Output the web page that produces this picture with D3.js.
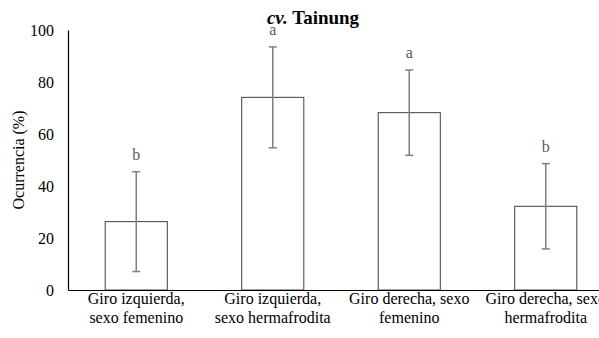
<!DOCTYPE html>
<html><head><meta charset="utf-8">
<script src="https://cdn.jsdelivr.net/npm/d3@7"></script>
<style>body{margin:0;background:#fff}svg{display:block}svg text{font-family:"Liberation Serif","Times New Roman","DejaVu Serif",serif}</style>
</head><body>
<script>
const categories = [["Giro izquierda,","sexo femenino"],["Giro izquierda,","sexo hermafrodita"],["Giro derecha, sexo","femenino"],["Giro derecha, sexo","hermafrodita"]];
const values = [26.3, 74.1, 68.2, 32.2];
const errors = [19.2, 19.4, 16.4, 16.4];
const letters = ["b","a","a","b"];
const yTicks = [0,20,40,60,80,100];

const W=599,H=338;
const svg=d3.select("body").append("svg").attr("width",W).attr("height",H);
const x0=68, x1=614, yTop=30, yBot=290;
const x=d3.scaleBand().domain(d3.range(categories.length)).range([x0,x1]).paddingInner(0.545).paddingOuter(0.2725);
const y=d3.scaleLinear().domain([0,100]).range([yBot,yTop]);

// y axis
const ya=svg.append("g").attr("transform",`translate(${x0},0)`).call(d3.axisLeft(y).tickValues(yTicks).tickSize(0).tickPadding(14));
ya.attr("font-family",null);
ya.select(".domain").attr("stroke","#000").attr("stroke-width",1.2);
ya.selectAll("text").attr("font-size",16).attr("fill","#000");

// bars
svg.selectAll("rect.bar").data(values).join("rect").attr("class","bar")
 .attr("x",(d,i)=>x(i)).attr("width",x.bandwidth())
 .attr("y",d=>y(d)).attr("height",d=>yBot-y(d))
 .attr("fill","#fff").attr("stroke","#404040").attr("stroke-width",1);

// x axis
const xa=svg.append("g").attr("transform",`translate(0,${yBot})`).call(d3.axisBottom(x).tickSize(0).tickFormat(""));
xa.select(".domain").attr("stroke","#000").attr("stroke-width",1.2);

// error bars
const eg=svg.append("g").attr("stroke","#7f7f7f").attr("stroke-width",1.5);
values.forEach((v,i)=>{
  const cx=x(i)+x.bandwidth()/2;
  eg.append("line").attr("x1",cx).attr("x2",cx).attr("y1",y(v+errors[i])).attr("y2",y(v-errors[i]));
  eg.append("line").attr("x1",cx-4).attr("x2",cx+4).attr("y1",y(v+errors[i])).attr("y2",y(v+errors[i]));
  eg.append("line").attr("x1",cx-4).attr("x2",cx+4).attr("y1",y(v-errors[i])).attr("y2",y(v-errors[i]));
  svg.append("text").attr("x",cx).attr("y",y(v+errors[i])-12).attr("text-anchor","middle")
   .attr("font-size",16).attr("fill","#595959").text(letters[i]);
});

// x labels
categories.forEach((c,i)=>{
  const cx=x(i)+x.bandwidth()/2;
  c.forEach((t,j)=>{
    svg.append("text").attr("x",cx).attr("y",304+j*19).attr("text-anchor","middle")
     .attr("font-size",16).attr("fill","#000").text(t);
  });
});

// y label
svg.append("text").attr("transform","translate(24,160) rotate(-90)").attr("text-anchor","middle")
 .attr("font-size",16).attr("fill","#000").text("Ocurrencia (%)");

// title
const tt=svg.append("text").attr("x",313).attr("y",24).attr("text-anchor","middle")
 .attr("font-size",19).attr("font-weight","bold").attr("fill","#000");
tt.append("tspan").attr("font-style","italic").text("cv.");
tt.append("tspan").text(" Tainung");
</script>
</body></html>
